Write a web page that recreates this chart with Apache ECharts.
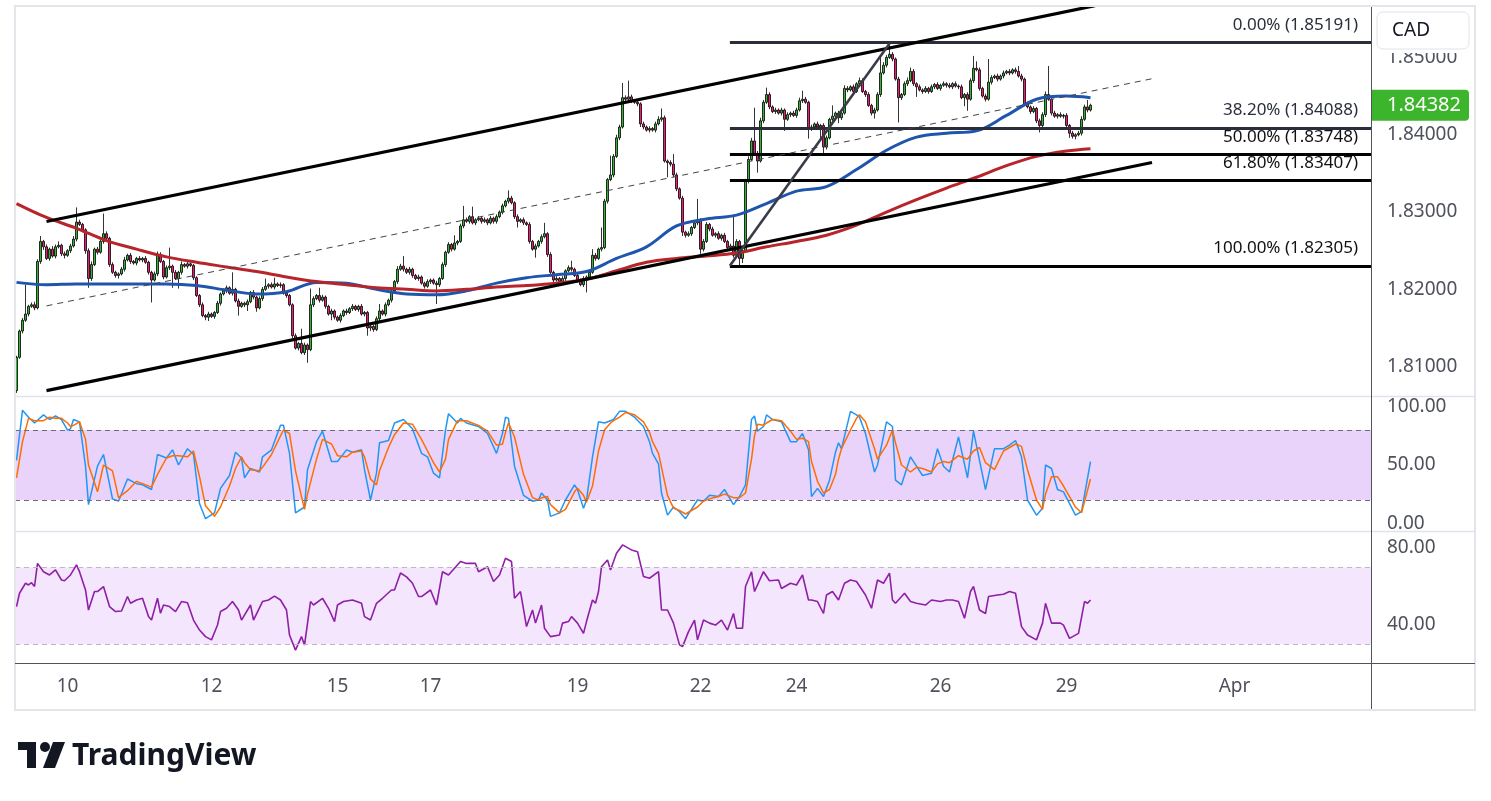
<!DOCTYPE html>
<html>
<head>
<meta charset="utf-8">
<script src="https://cdn.jsdelivr.net/npm/echarts@6/dist/echarts.min.js"></script>
<style>
  html, body { margin: 0; padding: 0; background: #fff; }
  #chart { width: 1491px; height: 801px; }
</style>
</head>
<body>
<div id="chart"></div>
<script>
// GBP/CAD-like 1H chart, bar index on x
const firstOpen = 1.8069;
const closes = [
  1.8112, 1.8146, 1.8160, 1.8168, 1.8178, 1.8180, 1.8176, 1.8236, 1.8262, 1.8255,
  1.8240, 1.8252, 1.8243, 1.8255, 1.8257, 1.8246, 1.8244, 1.8250, 1.8256, 1.8265,
  1.8287, 1.8284, 1.8277, 1.8250, 1.8214, 1.8232, 1.8252, 1.8248, 1.8262, 1.8272,
  1.8266, 1.8232, 1.8222, 1.8218, 1.8220, 1.8226, 1.8238, 1.8244, 1.8236, 1.8234,
  1.8240, 1.8238, 1.8240, 1.8235, 1.8222, 1.8212, 1.8220, 1.8245, 1.8236, 1.8216,
  1.8228, 1.8230, 1.8222, 1.8214, 1.8222, 1.8232, 1.8230, 1.8233, 1.8231, 1.8215,
  1.8192, 1.8180, 1.8166, 1.8164, 1.8168, 1.8165, 1.8170, 1.8182, 1.8194, 1.8198,
  1.8202, 1.8195, 1.8200, 1.8185, 1.8178, 1.8182, 1.8180, 1.8184, 1.8196, 1.8190,
  1.8176, 1.8188, 1.8200, 1.8204, 1.8206, 1.8203, 1.8207, 1.8205, 1.8206, 1.8195,
  1.8192, 1.8180, 1.8140, 1.8124, 1.8130, 1.8118, 1.8128, 1.8122, 1.8180, 1.8188,
  1.8192, 1.8186, 1.8190, 1.8178, 1.8168, 1.8172, 1.8164, 1.8160, 1.8166, 1.8172,
  1.8170, 1.8175, 1.8178, 1.8174, 1.8178, 1.8168, 1.8170, 1.8150, 1.8152, 1.8148,
  1.8162, 1.8172, 1.8168, 1.8180, 1.8186, 1.8198, 1.8210, 1.8226, 1.8230, 1.8226,
  1.8222, 1.8226, 1.8218, 1.8214, 1.8216, 1.8208, 1.8204, 1.8210, 1.8212, 1.8208,
  1.8206, 1.8214, 1.8232, 1.8248, 1.8258, 1.8252, 1.8260, 1.8262, 1.8282, 1.8290,
  1.8288, 1.8294, 1.8286, 1.8290, 1.8292, 1.8288, 1.8290, 1.8286, 1.8292, 1.8288,
  1.8294, 1.8300, 1.8308, 1.8314, 1.8318, 1.8312, 1.8294, 1.8288, 1.8290, 1.8286,
  1.8284, 1.8262, 1.8252, 1.8256, 1.8262, 1.8268, 1.8272, 1.8245, 1.8222, 1.8212,
  1.8214, 1.8210, 1.8214, 1.8224, 1.8228, 1.8226, 1.8218, 1.8212, 1.8206, 1.8214,
  1.8216, 1.8222, 1.8244, 1.8240, 1.8252, 1.8254, 1.8314, 1.8342, 1.8348, 1.8372,
  1.8396, 1.8410, 1.8448, 1.8446, 1.8449, 1.8444, 1.8442, 1.8440, 1.8414, 1.8410,
  1.8406, 1.8408, 1.8406, 1.8414, 1.8420, 1.8422, 1.8366, 1.8364, 1.8362, 1.8348,
  1.8330, 1.8318, 1.8274, 1.8270, 1.8272, 1.8280, 1.8286, 1.8290, 1.8252, 1.8262,
  1.8284, 1.8278, 1.8270, 1.8272, 1.8266, 1.8270, 1.8262, 1.8254, 1.8256, 1.8244,
  1.8262, 1.8240, 1.8250, 1.8340, 1.8368, 1.8392, 1.8376, 1.8366, 1.8418, 1.8442,
  1.8452, 1.8436, 1.8430, 1.8432, 1.8428, 1.8432, 1.8420, 1.8426, 1.8428, 1.8425,
  1.8432, 1.8444, 1.8446, 1.8442, 1.8408, 1.8410, 1.8414, 1.8410, 1.8412, 1.8384,
  1.8396, 1.8420, 1.8424, 1.8428, 1.8422, 1.8428, 1.8460, 1.8458, 1.8462, 1.8456,
  1.8466, 1.8470, 1.8456, 1.8452, 1.8438, 1.8428, 1.8432, 1.8452, 1.8480, 1.8490,
  1.8500, 1.8504, 1.8498, 1.8472, 1.8448, 1.8452, 1.8466, 1.8470, 1.8482, 1.8466,
  1.8462, 1.8458, 1.8456, 1.8460, 1.8456, 1.8462, 1.8465, 1.8460, 1.8464, 1.8466,
  1.8464, 1.8462, 1.8466, 1.8463, 1.8462, 1.8448, 1.8452, 1.8446, 1.8470, 1.8486,
  1.8484, 1.8460, 1.8450, 1.8446, 1.8468, 1.8474, 1.8476, 1.8472, 1.8476, 1.8480,
  1.8482, 1.8480, 1.8484, 1.8482, 1.8476, 1.8472, 1.8440, 1.8436, 1.8430, 1.8434,
  1.8418, 1.8412, 1.8426, 1.8452, 1.8446, 1.8428, 1.8424, 1.8426, 1.8424, 1.8425,
  1.8412, 1.8402, 1.8398, 1.8400, 1.8402, 1.8420, 1.8436, 1.8432, 1.84382
];
// wick lengths in pips (0.0001) above / below the body
const upperWick = [
  2,2,3,38,2,3,4,3,7,2, 3,2,4,3,5,2,3,2,3,4, 19,3,2,2,3,4,2,3,3,26, 3,2,3,2,2,3,4,2,3,2,
  2,3,2,3,2,2,3,4,3,2, 3,24,2,3,2,4,2,3,2,2, 2,2,3,2,3,2,2,3,2,3, 3,2,22,2,3,2,2,3,2,3,
  2,3,3,10,2,3,8,2,3,2, 3,2,2,3,2,19,3,2,21,3, 2,10,3,2,2,3,2,2,3,2, 3,2,3,2,2,3,2,2,3,2,
  3,9,2,3,2,3,2,4,3,13, 2,3,2,2,3,2,2,3,2,2, 3,2,3,2,3,2,10,2,3,18, 3,2,13,2,3,2,3,2,3,2,
  3,2,3,2,10,3,2,3,2,3, 2,3,2,3,2,3,14,2,3,2, 3,2,3,2,3,9,2,3,2,3, 2,2,8,3,2,26,3,2,25,3,
  4,3,19,3,21,3,2,3,2,3, 2,3,2,3,4,12,3,2,3,13, 3,2,3,2,3,2,3,27,2,3, 3,2,3,2,3,2,3,2,3,41,
  3,2,3,3,4,4,43,3,4,3, 9,3,2,3,2,3,2,3,2,3, 3,4,11,3,2,3,2,3,2,3, 3,2,14,2,3,2,4,3,2,3,
  2,4,3,2,3,2,3,3,20,4, 3,15,3,2,3,2,3,4,5,3, 2,3,2,3,2,3,2,3,2,3, 2,3,2,3,2,3,2,3,3,16,
  9,3,2,3,30,3,2,3,2,3, 2,3,2,3,7,3,2,3,2,3, 2,3,3,4,37,2,3,2,3,2, 3,2,3,2,3,4,3,9,2
];
const lowerWick = [
  3,2,3,2,3,2,3,2,3,4, 2,3,2,3,2,3,4,2,3,2, 3,2,3,4,12,3,2,3,2,3, 2,3,2,3,4,2,3,2,3,2,
  3,2,3,2,3,29,2,3,2,3, 2,3,20,2,13,3,2,3,2,3, 2,3,2,4,5,2,3,2,3,2, 3,2,3,2,12,2,3,8,2,3,
  5,2,3,2,3,2,3,2,3,2, 3,2,3,2,3,2,3,17,2,3, 2,3,2,3,2,8,3,2,3,2, 3,2,3,2,3,2,3,10,4,3,
  2,3,2,3,2,3,2,3,2,3, 2,3,3,2,3,2,3,2,3,2, 25,3,2,3,2,3,2,3,2,3, 2,3,2,3,2,3,2,3,2,3,
  3,2,3,2,3,2,3,8,2,3, 2,3,2,11,2,3,2,3,2,3, 2,3,2,3,2,3,2,3,2,3, 18,3,2,3,2,3,2,3,2,3,
  2,3,2,3,2,3,2,3,4,3, 2,3,2,3,2,3,2,19,3,3, 3,2,5,3,2,3,2,3,6,3, 2,3,2,3,2,3,2,3,2,3,
  2,10,6,2,3,2,3,15,2,3, 2,3,2,3,2,3,15,2,3,2, 3,2,3,2,13,3,2,3,18,9, 3,2,3,2,7,3,2,3,2,3,
  2,3,2,3,2,3,7,2,3,2, 3,2,3,2,32,3,2,3,2,3, 13,2,3,2,3,2,3,2,3,2, 3,2,3,2,3,2,11,15,2,3,
  2,3,2,3,2,3,2,3,2,3, 2,3,2,3,2,3,3,2,3,2, 3,9,2,3,2,3,2,3,2,3, 3,6,3,4,2,3,2,3,2
];

// moving averages read every 10 bars
const maBars = [0,10,20,30,40,50,60,70,80,90,100,110,120,130,140,150,160,170,180,190,
  200,210,220,230,240,250,260,270,280,290,300,310,320,330,340,350,358];
const maFast = [1.8209,1.8206,1.8207,1.8207,1.8207,1.8207,1.8205,1.8199,1.8194,1.8197,
  1.8209,1.8208,1.8200,1.8194,1.8193,1.8198,1.8208,1.8215,1.8219,1.8223,
  1.8240,1.8255,1.8282,1.8291,1.8296,1.8311,1.8327,1.8333,1.8355,1.8380,
  1.8397,1.8402,1.8405,1.8425,1.8446,1.8450,1.8448];
const maSlow = [1.8311,1.8293,1.8279,1.8263,1.8252,1.8242,1.8235,1.8229,1.8223,1.8216,
  1.8210,1.8206,1.8202,1.8200,1.8198,1.8200,1.8203,1.8205,1.8208,1.8213,
  1.8224,1.8235,1.8240,1.8243,1.8247,1.8255,1.8262,1.8270,1.8283,1.8300,
  1.8316,1.8331,1.8345,1.8360,1.8372,1.8379,1.8382];

// stochastic: [bar, %K, %D]
const stoch = [
  [0,54,39],[2,97,70],[4,91,90],[6,86,88],[9,93,88],[11,89,91],[13,92,90],[15,89,90],[17,80,86],[18,81,83],
  [19,89,84],[21,87,87],[23,49,72],[24,16,50],[27,49,27],[29,59,50],[32,21,45],[34,19,22],[37,38,28],[40,34,36],
  [42,33,34],[45,29,31],[47,59,42],[50,56,56],[52,63,58],[54,50,58],[57,64,57],[59,59,62],[61,17,40],[63,4,15],
  [66,9,6],[68,30,14],[71,41,32],[73,61,47],[75,56,57],[76,39,52],[78,47,46],[81,44,45],[82,57,48],[85,63,59],
  [88,84,75],[89,84,80],[91,60,77],[93,9,45],[96,14,12],[97,46,25],[100,70,55],[102,79,72],[105,53,68],[107,53,58],
  [110,63,57],[112,61,61],[115,63,62],[116,46,57],[118,20,38],[120,43,33],[121,69,45],[124,71,65],[126,86,76],[129,89,86],
  [132,81,85],[135,60,72],[137,57,62],[139,43,52],[141,39,44],[143,80,55],[144,94,72],[147,86,88],[148,90,88],[150,86,88],
  [154,83,84],[157,77,79],[160,60,67],[162,77,68],[163,91,78],[164,90,86],[166,49,74],[169,24,42],[172,19,22],[174,20,20],
  [175,26,22],[177,20,23],[178,6,16],[181,9,9],[183,20,12],[186,33,27],[187,29,30],[189,13,24],[190,20,18],[192,57,32],
  [194,87,62],[196,86,80],[198,88,86],[199,89,88],[201,96,91],[203,96,95],[206,91,93],[209,83,87],[211,70,78],[212,60,70],
  [214,51,60],[215,26,48],[217,7,24],[219,14,13],[221,10,11],[223,4,8],[227,20,14],[229,19,19],[231,24,21],[234,23,23],
  [236,29,25],[239,16,22],[241,23,22],[243,33,26],[245,89,55],[246,92,75],[247,79,85],[249,83,84],[250,93,86],[252,89,89],
  [255,87,88],[258,70,79],[260,70,72],[262,77,73],[264,63,70],[265,23,53],[267,30,36],[269,23,26],[271,37,29],[273,61,42],
  [274,69,55],[275,64,64],[278,96,80],[280,93,90],[281,91,93],[283,77,87],[286,44,64],[287,50,55],[290,87,67],[292,83,80],
  [293,37,69],[295,33,50],[298,57,44],[300,49,48],[302,41,47],[305,43,44],[307,64,51],[309,49,53],[311,44,52],[314,74,58],
  [317,39,55],[319,79,62],[321,54,65],[323,29,52],[326,64,46],[329,64,62],[331,67,65],[333,71,68],[335,57,66],[337,20,46],
  [340,7,20],[342,13,12],[343,50,25],[345,47,40],[347,29,40],[349,27,32],[353,7,14],[355,10,9],[358,53,38]
];

// RSI: [bar, value]
const rsi = [
  [0,49.6],[1,56.5],[3,61.7],[4,60.8],[5,62],[6,60],[7,72],[9,67.7],[11,66],[13,68.6],
  [15,63.4],[16,63],[18,66],[20,71.2],[21,67.7],[23,58.2],[24,47.8],[26,57.4],[27,57.4],[29,60],
  [31,49.6],[33,47],[35,47.3],[37,54.8],[38,51.3],[40,53],[42,53.9],[44,44.4],[45,42.6],[47,53.9],
  [48,46.1],[49,50.4],[51,49.6],[53,47],[55,52.2],[57,51.6],[59,42.6],[61,37.4],[63,34],[65,32.3],
  [67,40],[68,47],[70,48.7],[72,52.2],[74,47.8],[75,42.6],[78,50.4],[79,42.6],[82,52.2],[84,53],
  [86,55],[88,53],[90,47.8],[91,34.8],[93,27],[95,34],[96,29.6],[98,52.2],[99,50.4],[102,53.9],
  [104,48.7],[106,41.8],[107,50.4],[109,52.2],[112,53],[115,51.3],[116,44.4],[118,42.6],[120,51.3],[122,53.9],
  [125,58.2],[126,58.2],[128,67],[130,65],[132,61.7],[134,54.8],[135,54.8],[138,58.2],[140,50.4],[142,67.7],
  [144,66],[146,69.5],[148,73],[150,72],[153,72],[154,67.7],[157,70.3],[159,62.6],[161,66],[163,74.7],
  [165,73],[166,53.9],[168,57.4],[170,39.2],[172,47.8],[173,41],[175,50.4],[176,38.3],[178,34],[181,34.8],
  [182,41],[184,41.8],[185,44.4],[187,41],[189,35.7],[190,41.8],[192,53],[193,51.3],[194,57.4],[195,70.3],
  [197,73.8],[198,68.6],[200,77.3],[202,81.6],[205,79],[207,78.1],[209,65.2],[211,64.3],[214,67.7],[215,47.8],
  [217,47.8],[219,41],[221,29.7],[222,28.8],[224,36.6],[226,42.6],[227,32.3],[229,42.6],[231,41],[233,40],
  [235,42.6],[237,37.4],[239,46],[240,38.3],[242,38.3],[243,60],[245,67.7],[246,57.4],[249,67.7],[251,63],
  [254,63.4],[255,59],[258,61.7],[260,60.8],[262,66],[264,53],[265,53],[267,52.2],[269,46],[270,55.6],
  [272,57.4],[274,53],[276,61.7],[278,63.4],[280,62.6],[283,55.6],[285,48.7],[287,63.4],[289,61.7],[291,67],
  [292,53],[293,51.3],[296,56.5],[298,52.2],[300,51.3],[303,50.4],[305,53],[308,52.2],[310,53],[312,53],
  [314,52.2],[316,43.5],[318,57.4],[319,60],[321,47.8],[323,46],[324,54.8],[327,55.6],[329,56],[331,57.4],
  [333,56.5],[335,39.2],[337,34.8],[340,32.3],[342,41],[343,51.3],[345,41],[348,41],[349,40],[351,33.1],
  [354,35.7],[356,52.2],[357,51.3],[358,53]
];

// drawings: [bar, price]
const upperChannel = [[10, 1.82877], [359.5, 1.8567]];
const lowerChannel = [[10, 1.80689], [378.5, 1.83641]];
const midChannel = [[10, 1.81786], [378.5, 1.84725]];
const fibSwing = [[237.8, 1.82305], [291.2, 1.85191]];
const fibNames = ['0.00%', '38.20%', '50.00%', '61.80%', '100.00%'];
const fibLevels = [1.85191, 1.84088, 1.83748, 1.83407, 1.82305];
const fibColors = ['#2a2e39', '#2a2e39', '#000000', '#000000', '#000000'];

const dateBars = [17, 65, 107, 138, 187, 228, 260, 308, 350, 406];
const dateLabels = ['10', '12', '15', '17', '19', '22', '24', '26', '29', 'Apr'];
const priceTicks = [1.81, 1.82, 1.83, 1.84, 1.85];

const FONT = '"Noto Sans", "Open Sans", sans-serif';
const AXIS_COLOR = '#4f525b';
const X_MIN = -0.5, X_MAX = 451.5;

const candles = closes.map((c, i) => {
  const o = i === 0 ? firstOpen : closes[i - 1];
  const hi = Math.max(o, c) + (upperWick[i] || 0) / 10000;
  const lo = Math.min(o, c) - (lowerWick[i] || 0) / 10000;
  return [i, o, c, lo, hi];
});

const zip = (xs, ys) => xs.map((x, k) => [x, ys[k]]);

const xAxisBase = (gridIndex, showLabels) => ({
  type: 'value', gridIndex, min: X_MIN, max: X_MAX,
  axisLine: { show: false }, axisTick: { show: false }, splitLine: { show: false },
  axisLabel: showLabels ? {
    customValues: dateBars,
    formatter: v => dateLabels[dateBars.indexOf(v)] || '',
    color: AXIS_COLOR, fontSize: 19, fontFamily: FONT, margin: 14
  } : { show: false }
});

const yAxisBase = (gridIndex, min, max, ticks, digits) => ({
  type: 'value', gridIndex, position: 'right', min, max, scale: true,
  axisLine: { show: false }, axisTick: { show: false }, splitLine: { show: false },
  axisLabel: {
    customValues: ticks,
    formatter: v => v.toFixed(digits),
    color: AXIS_COLOR, fontSize: 19, fontFamily: FONT, margin: 16
  }
});

const segment = (data, color, width, type) => ({
  type: 'line', xAxisIndex: 0, yAxisIndex: 0, data, symbol: 'none', silent: true,
  lineStyle: { color, width, type: type || 'solid' }, z: 5
});

const fibLines = fibLevels.map((lvl, k) => [
  {
    coord: [fibSwing[0][0], lvl],
    lineStyle: { color: fibColors[k], width: 3, type: 'solid' },
    label: {
      show: true, position: 'insideEndTop', distance: [13, 9],
      formatter: fibNames[k] + ' (' + lvl.toFixed(5) + ')',
      color: fibColors[k] === '#000000' ? '#111' : '#2a2e39',
      fontSize: 17, fontFamily: FONT
    }
  },
  { coord: [X_MAX, lvl] }
]);

const option = {
  animation: false,
  backgroundColor: '#ffffff',
  grid: [
    { left: 15, right: 120, top: 8, height: 388 },
    { left: 15, right: 120, top: 397, height: 134 },
    { left: 15, right: 120, top: 532, height: 131 }
  ],
  xAxis: [xAxisBase(0, false), xAxisBase(1, false), xAxisBase(2, true)],
  yAxis: [
    yAxisBase(0, 1.8062, 1.8564, priceTicks, 5),
    yAxisBase(1, -6.57, 108.3, [0, 50, 100], 2),
    yAxisBase(2, 20.3, 88.3, [40, 80], 2)
  ],
  series: [
    {
      type: 'candlestick', name: 'price', xAxisIndex: 0, yAxisIndex: 0,
      data: candles, encode: { x: 0, y: [1, 2, 3, 4] },
      barWidth: 2.6, silent: true, z: 2,
      itemStyle: {
        color: '#36b336', color0: '#ee1d72',
        borderColor: '#000', borderColor0: '#000', borderWidth: 0.8
      }
    },
    {
      type: 'line', name: 'MA fast', xAxisIndex: 0, yAxisIndex: 0,
      data: zip(maBars, maFast), smooth: 0.35, symbol: 'none', silent: true, z: 3,
      lineStyle: { color: '#1f55ad', width: 3 }
    },
    {
      type: 'line', name: 'MA slow', xAxisIndex: 0, yAxisIndex: 0,
      data: zip(maBars, maSlow), smooth: 0.35, symbol: 'none', silent: true, z: 3,
      lineStyle: { color: '#b7242a', width: 3 }
    },
    segment(upperChannel, '#000', 3.2),
    segment(lowerChannel, '#000', 3.2),
    segment(midChannel, '#444', 1, [6, 5]),
    Object.assign(segment(fibSwing, '#393c46', 2.6), {
      markLine: {
        silent: true, symbol: ['none', 'none'], animation: false,
        lineStyle: { width: 3, type: 'solid' }, data: fibLines
      }
    }),
    {
      type: 'line', name: '%K', xAxisIndex: 1, yAxisIndex: 1,
      data: stoch.map(p => [p[0], p[1]]), symbol: 'none', silent: true, z: 4,
      lineStyle: { color: '#2196f3', width: 1.5 },
      markArea: {
        silent: true, itemStyle: { color: '#e9d3fb' },
        data: [[{ yAxis: 80 }, { yAxis: 20 }]]
      },
      markLine: {
        silent: true, symbol: ['none', 'none'], label: { show: false },
        lineStyle: { color: '#6a6d78', type: [5, 4], width: 1 },
        data: [{ yAxis: 80 }, { yAxis: 20 }]
      }
    },
    {
      type: 'line', name: '%D', xAxisIndex: 1, yAxisIndex: 1,
      data: stoch.map(p => [p[0], p[2]]), symbol: 'none', silent: true, z: 4,
      lineStyle: { color: '#ff6d00', width: 1.5 }
    },
    {
      type: 'line', name: 'RSI', xAxisIndex: 2, yAxisIndex: 2,
      data: rsi, symbol: 'none', silent: true, z: 4,
      lineStyle: { color: '#8e1fa6', width: 1.6 },
      markArea: {
        silent: true, itemStyle: { color: '#f4e7fd' },
        data: [[{ yAxis: 70 }, { yAxis: 30 }]]
      },
      markLine: {
        silent: true, symbol: ['none', 'none'], label: { show: false },
        lineStyle: { color: '#b9b9c2', type: [5, 4], width: 1 },
        data: [{ yAxis: 70 }, { yAxis: 30 }]
      }
    }
  ]
};

const chart = echarts.init(document.getElementById('chart'));
chart.setOption(option);

const lastClose = closes[closes.length - 1];
const lastY = chart.convertToPixel({ yAxisIndex: 0 }, lastClose);

chart.setOption({
  graphic: { elements: [
    // frame and separators
    { type: 'rect', shape: { x: 15, y: 6, width: 1460, height: 704 },
      style: { fill: 'none', stroke: '#e3e5ea', lineWidth: 2 }, z: 50, silent: true },
    { type: 'line', shape: { x1: 15, y1: 396.5, x2: 1475, y2: 396.5 },
      style: { stroke: '#e0e3eb', lineWidth: 1.5 }, z: 50, silent: true },
    { type: 'line', shape: { x1: 15, y1: 531.5, x2: 1475, y2: 531.5 },
      style: { stroke: '#e0e3eb', lineWidth: 1.5 }, z: 50, silent: true },
    { type: 'line', shape: { x1: 15, y1: 663.5, x2: 1475, y2: 663.5 },
      style: { stroke: '#50535e', lineWidth: 1 }, z: 50, silent: true },
    { type: 'line', shape: { x1: 1371.5, y1: 7, x2: 1371.5, y2: 709 },
      style: { stroke: '#50535e', lineWidth: 1 }, z: 50, silent: true },
    // currency box
    { type: 'rect', shape: { x: 1373, y: 7, width: 101, height: 46 },
      style: { fill: '#fff' }, z: 60, silent: true },
    { type: 'rect', shape: { x: 1377, y: 12, width: 92, height: 37, r: 6 },
      style: { fill: '#fff', stroke: '#e0e3eb', lineWidth: 1 }, z: 61, silent: true },
    { type: 'text', x: 1392, y: 31, z: 62, silent: true,
      style: { text: 'CAD', fill: '#131722', font: '19px ' + FONT, verticalAlign: 'middle' } },
    // last price tag
    { type: 'rect', shape: { x: 1372, y: lastY - 15.5, width: 97, height: 31, r: [0, 4, 4, 0] },
      style: { fill: '#3cb52c' }, z: 60, silent: true },
    { type: 'text', x: 1387, y: lastY + 0.5, z: 62, silent: true,
      style: { text: lastClose.toFixed(5), fill: '#fff', font: '20px ' + FONT, verticalAlign: 'middle' } },
    // logo
    { type: 'rect', shape: { x: 18, y: 742, width: 18, height: 8 }, style: { fill: '#131722' }, silent: true },
    { type: 'rect', shape: { x: 27, y: 742, width: 9, height: 26 }, style: { fill: '#131722' }, silent: true },
    { type: 'circle', shape: { cx: 45, cy: 747, r: 5 }, style: { fill: '#131722' }, silent: true },
    { type: 'polygon', shape: { points: [[53, 742], [65, 742], [55, 768], [43, 768]] },
      style: { fill: '#131722' }, silent: true },
    { type: 'text', x: 72, y: 756, silent: true,
      style: { text: 'TradingView', fill: '#131722', font: 'bold 30px ' + FONT, verticalAlign: 'middle' } }
  ] }
});
</script>
</body>
</html>
